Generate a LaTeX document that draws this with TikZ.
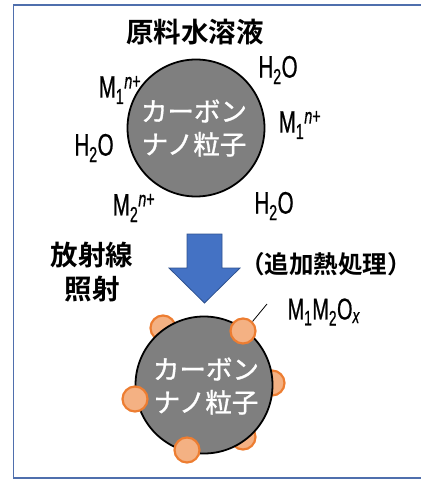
\documentclass[tikz,border=0pt]{standalone}
\usepackage{fontspec}
\newfontfamily\cjk[FakeBold=1.2]{Noto Sans CJK JP}
\newfontfamily\cjkb{Noto Sans CJK JP Bold}
\newfontfamily\narrow[FakeStretch=0.66,FakeBold=0.6]{Liberation Sans}
\definecolor{frameblue}{HTML}{4F6FAD}
\definecolor{arrowfill}{HTML}{4472C4}
\definecolor{arrowedge}{HTML}{2F528F}
\definecolor{cgray}{HTML}{7F7F7F}
\definecolor{ofill}{HTML}{F4B183}
\definecolor{oedge}{HTML}{ED7D31}
\tikzset{
  carbon/.style={circle, draw=black, line width=1.8pt, fill=cgray, minimum size=137pt, inner sep=0pt},
  oxide/.style={circle, draw=oedge, line width=2.2pt, fill=ofill, minimum size=25pt, inner sep=0pt},
  ctext/.style={text=white, font=\cjk\fontsize{26.5}{33}\selectfont, align=center},
  chem/.style={font=\narrow\fontsize{31}{32}\selectfont, inner sep=0pt},
  jlabel/.style={font=\cjkb\fontsize{27.5}{34}\selectfont, align=center, inner sep=0pt},
}
\newcommand{\Ion}[1]{M\textsubscript{#1}\textsuperscript{\textit{n}+}}
\newcommand{\Water}{H\textsubscript{2}O}
\begin{document}
\begin{tikzpicture}[x=1pt,y=-1pt]
\useasboundingbox (0,0) rectangle (421,483);
% frame
\draw[frameblue, line width=1.6pt] (430,5) -- (13.5,5) -- (13.5,478) -- (430,478);
% title
\node[jlabel] (title) at (195,32) {原料水溶液};
% top particle
\node[carbon] (c1) at (196,128) {};
\node[ctext] (c1t) at (194,128) {カーボン\\ナノ粒子};
\node[chem] (i1) at (120,90) {\Ion{1}};
\node[chem] (w1) at (278,70) {\Water};
\node[chem] (i2) at (300,125) {\Ion{1}};
\node[chem] (w2) at (94,148) {\Water};
\node[chem] (i3) at (134,208) {\Ion{2}};
\node[chem] (w3) at (274,206) {\Water};
% arrow
\node[jlabel] (rad) at (92,272) {放射線\\照射};
\draw[arrowedge, fill=arrowfill, line width=0.8pt]
  (187,234) -- (222,234) -- (222,268) -- (240,268) -- (204.5,303) -- (169,268) -- (187,268) -- cycle;
\node[font=\cjkb\fontsize{24.5}{30}\selectfont, inner sep=0pt] (heat) at (326,264) {（追加熱処理）};
% bottom particle
\node[oxide] (o4) at (163,328) {};
\node[oxide] (o5) at (272,383) {};
\node[oxide] (o6) at (243,437) {};
\node[carbon] (c2) at (204,385) {};
\node[oxide] (o1) at (243,331) {};
\node[oxide] (o2) at (135,399) {};
\node[oxide] (o3) at (187,450) {};
\node[ctext] (c2t) at (206,386) {カーボン\\ナノ粒子};
\node[chem, font=\narrow\fontsize{30}{32}\selectfont] (ox) at (324,312) {M\textsubscript{1}M\textsubscript{2}O\textsubscript{\textit{x}}};
\coordinate (oxend) at (267,304);
\draw[line width=0.8pt] (o1.45) -- (oxend);
\end{tikzpicture}
\end{document}
